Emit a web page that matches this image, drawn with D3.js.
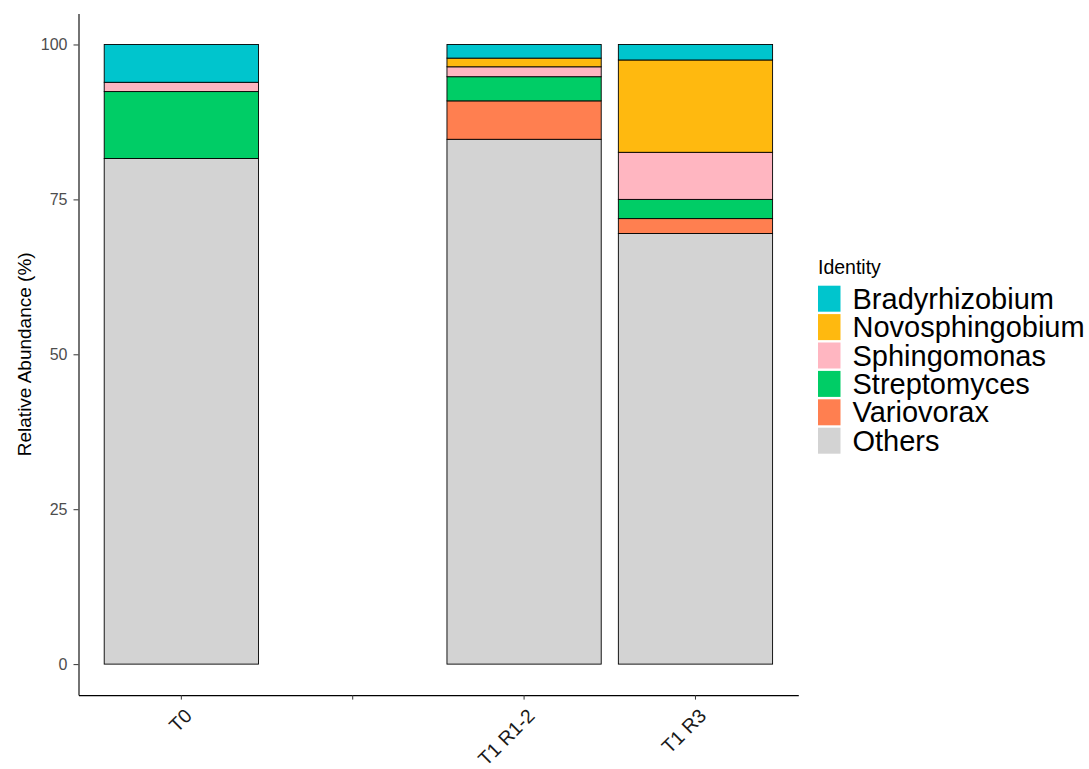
<!DOCTYPE html>
<html>
<head>
<meta charset="utf-8">
<script src="https://cdn.jsdelivr.net/npm/d3@7"></script>
<style>
  html, body { margin: 0; padding: 0; background: #fff; }
  svg { display: block; font-family: "Liberation Sans", Arial, sans-serif; }
</style>
</head>
<body>
<svg id="chart" width="1089" height="769"></svg>
<script>
// Samples along the x axis (the second slot is an empty placeholder column)
const samples = ["T0", "", "T1 R1-2", "T1 R3"];

// Taxa, legend order (top of stack first)
const taxa = ["Bradyrhizobium", "Novosphingobium", "Sphingomonas", "Streptomyces", "Variovorax", "Others"];
const taxaColors = ["#00C5CD", "#FFB90F", "#FFB6C1", "#00CD66", "#FF7F50", "#D3D3D3"];

// Relative abundance (%) of each taxon per sample; null = no bar
const bradyrhizobium  = [6.1,  null, 2.2,  2.5];
const novosphingobium = [0.0,  null, 1.4,  14.9];
const sphingomonas    = [1.5,  null, 1.6,  7.6];
const streptomyces    = [10.8, null, 3.9,  3.1];
const variovorax      = [0.0,  null, 6.2,  2.4];
const others          = [81.6, null, 84.7, 69.5];

const yTicks = [0, 25, 50, 75, 100];

const seriesValues = [bradyrhizobium, novosphingobium, sphingomonas, streptomyces, variovorax, others];

// Build a row-per-sample table for d3.stack
const rows = samples.map((s, i) => {
  const r = { sample: s, present: bradyrhizobium[i] !== null };
  taxa.forEach((t, k) => { r[t] = seriesValues[k][i] || 0; });
  return r;
});

const svg = d3.select("#chart");

const x = d3.scaleBand()
  .domain(samples)
  .range([78.5, 798.3])
  .paddingInner(0.1)
  .paddingOuter(0.15);

const y = d3.scaleLinear()
  .domain([-5, 105])
  .range([695.1, 13.5]);

// Stack bottom-up: Others at the base, Bradyrhizobium on top
const stackOrder = taxa.slice().reverse();
const stacked = d3.stack().keys(stackOrder)(rows.filter(r => r.present));
const color = d3.scaleOrdinal().domain(taxa).range(taxaColors);

const bars = svg.append("g");
stacked.forEach(layer => {
  bars.selectAll(null)
    .data(layer)
    .join("rect")
    .attr("x", d => x(d.data.sample))
    .attr("width", x.bandwidth())
    .attr("y", d => y(d[1]))
    .attr("height", d => Math.max(0, y(d[0]) - y(d[1])))
    .attr("fill", color(layer.key))
    .attr("stroke", "#000")
    .attr("stroke-width", 0.9);
});

// Axes
const xAxis = svg.append("g")
  .attr("transform", `translate(0,${y(-5)})`)
  .call(d3.axisBottom(x).tickSize(4.5).tickSizeOuter(0).tickFormat(""));
xAxis.select(".domain").attr("stroke", "#000").attr("stroke-width", 1.1);
xAxis.selectAll(".tick line").attr("stroke", "#333").attr("stroke-width", 1);

xAxis.selectAll(".tick")
  .append("text")
  .attr("transform", "translate(2,12) rotate(-45)")
  .attr("text-anchor", "end")
  .attr("dy", "0.72em")
  .attr("fill", "#1a1a1a")
  .style("font-size", "19.5px")
  .text(d => d);

const yAxis = svg.append("g")
  .attr("transform", `translate(${x.range()[0]},0)`)
  .call(d3.axisLeft(y).tickValues(yTicks).tickSize(5).tickSizeOuter(0).tickPadding(6));
yAxis.select(".domain").attr("stroke", "#000").attr("stroke-width", 1.1);
yAxis.selectAll(".tick line").attr("stroke", "#333").attr("stroke-width", 1);
yAxis.selectAll(".tick text")
  .attr("fill", "#4d4d4d")
  .style("font-size", "16px")
  .style("font-family", "'Liberation Sans', Arial, sans-serif");

// Axis title
svg.append("text")
  .attr("transform", `translate(31,${y(50)}) rotate(-90)`)
  .attr("text-anchor", "middle")
  .attr("fill", "#000")
  .style("font-size", "19px")
  .text("Relative Abundance (%)");

// Legend
const legend = svg.append("g").attr("transform", "translate(818,0)");
legend.append("text")
  .attr("x", 0)
  .attr("y", 274)
  .attr("fill", "#000")
  .style("font-size", "19.5px")
  .text("Identity");

const keyH = 26, keyStep = 28.4, keyTop = 285.7;
const items = legend.selectAll("g.item")
  .data(taxa)
  .join("g")
  .attr("class", "item")
  .attr("transform", (d, i) => `translate(0,${keyTop + i * keyStep})`);
items.append("rect")
  .attr("width", 22.5)
  .attr("height", keyH)
  .attr("fill", d => color(d));
items.append("text")
  .attr("x", 34.5)
  .attr("y", keyH / 2)
  .attr("dy", "0.35em")
  .attr("fill", "#000")
  .style("font-size", "29px")
  .text(d => d);
</script>
</body>
</html>
